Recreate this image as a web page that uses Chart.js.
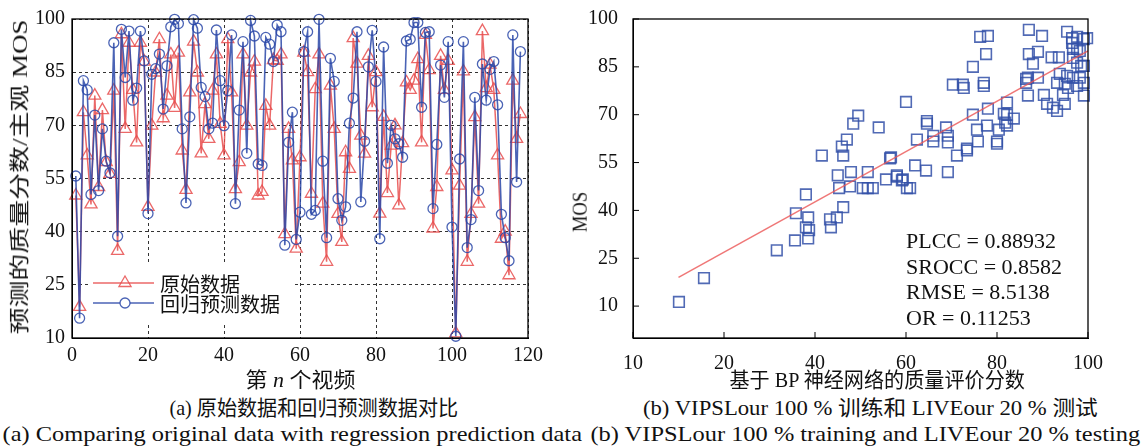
<!DOCTYPE html>
<html><head><meta charset="utf-8">
<script src="https://cdn.jsdelivr.net/npm/chart.js@4.4.0/dist/chart.umd.min.js"></script>
<style>
body{margin:0;background:#fff;}
#wrap{position:relative;width:1143px;height:448px;overflow:hidden;background:#fff;}
canvas{position:absolute;left:0;top:0;}
.t{position:absolute;white-space:nowrap;font-family:"Liberation Serif","Noto Sans CJK SC",serif;color:#111;line-height:1;}
</style></head><body>
<div id="wrap">
<div style="position:absolute;left:0;top:0;width:560px;height:395px;"><canvas id="c1" width="560" height="395"></canvas></div>
<div style="position:absolute;left:560px;top:0;width:583px;height:395px;"><canvas id="c2" width="583" height="395"></canvas></div>
<div class="t" data-cx="20" data-cy="177" data-w="315" data-fs="20" data-rot="1">预测的质量分数/主观 MOS</div>
<div class="t" data-cx="579" data-cy="212" data-w="40" data-fs="20" data-rot="1">MOS</div>
<div class="t" data-cx="300" data-cy="380" data-w="110" data-fs="21">第 <i>n</i> 个视频</div>
<div class="t" data-cx="877" data-cy="380" data-w="295" data-fs="21">基于 BP 神经网络的质量评价分数</div>
<div class="t" data-cx="314" data-cy="408" data-w="289" data-fs="21">(a) 原始数据和回归预测数据对比</div>
<div class="t" data-cx="870" data-cy="408" data-w="455" data-fs="21">(b) VIPSLour 100 % 训练和 LIVEour 20 % 测试</div>
<div class="t" data-cx="292" data-cy="434" data-w="580" data-fs="21">(a) Comparing original data with regression prediction data</div>
<div class="t" data-cx="865" data-cy="434" data-w="550" data-fs="21">(b) VIPSLour 100 % training and LIVEour 20 % testing</div>
</div>
<script>
// ---------- data ----------
const videoIndex = Array.from({length:118},(_,i)=>i+1);
const origData = [50.2,18.8,73.7,61.5,47.7,78.4,52.6,74.3,59.6,56.3,
 79.8,34.6,95.7,69.0,93.3,80.0,65.2,93.3,88.0,47.0,
 69.9,84.9,94.3,72.0,78.4,90.0,74.9,90.5,62.9,51.8,
 79.3,93.6,84.9,62.1,76.0,66.2,79.8,90.0,70.4,61.5,
 94.3,79.3,52.0,59.6,90.0,69.9,84.9,88.0,50.2,51.2,
 75.5,69.9,88.4,88.2,90.0,39.3,69.0,60.1,35.2,61.0,
 90.5,85.0,50.7,80.2,90.0,47.9,31.5,81.2,69.0,45.0,
 37.1,62.4,57.7,94.6,87.4,67.1,62.0,89.6,75.1,85.0,
 45.1,72.4,50.9,64.3,70.0,47.4,65.0,82.1,80.0,82.6,
 88.7,65.2,95.5,85.6,40.9,52.6,89.6,80.0,88.2,57.3,
 11.3,53.0,85.2,31.5,45.0,72.3,47.9,96.6,80.5,87.1,
 80.0,61.5,38.0,40.0,27.7,82.6,66.2,73.2];
const predData = [55.7,15.6,82.6,80.0,50.5,72.9,51.6,69.0,59.9,56.6,
 93.3,38.7,97.1,83.5,96.6,77.1,80.5,96.6,88.2,45.1,
 84.4,86.0,90.1,74.6,86.8,97.8,99.9,98.7,69.0,48.1,
 72.4,99.8,97.4,80.7,78.1,69.0,70.6,96.9,82.6,69.9,
 79.8,95.5,47.9,74.3,93.6,62.1,99.6,95.2,59.1,58.7,
 94.8,92.9,88.0,98.3,96.4,36.2,65.2,73.7,37.8,45.5,
 90.8,96.4,44.9,46.0,99.9,59.9,38.3,88.9,82.4,49.3,
 43.2,47.0,70.6,77.7,96.4,48.4,65.5,86.5,96.8,82.4,
 38.0,92.1,59.3,70.0,66.2,64.8,61.0,93.8,94.3,99.0,
 99.0,75.1,96.2,96.4,46.5,64.6,87.0,77.9,93.6,41.3,
 10.5,60.5,93.6,35.5,43.4,77.9,51.6,87.3,77.1,85.8,
 88.0,75.8,44.9,38.3,31.8,95.5,54.0,90.8];
const seriesNames = ['原始数据','回归预测数据'];
const leftYTicks = [10,25,40,55,70,85,100];
const leftXTicks = [0,20,40,60,80,100,120];

const bpScore = [10.1,15.6,31.6,35.6,38.5,38.7,38.0,35.8,38.5,38.0,
 43.5,43.3,44.8,46.2,41.5,45.9,47.0,46.2,48.4,49.5,
 54.0,45.0,45.3,47.9,47.7,51.6,50.5,51.6,52.7,55.6,
 56.5,58.0,59.3,60.0,60.2,60.9,59.1,76.3,78.0,77.6,
 74.7,70.3,72.5,72.7,77.1,77.1,64.6,64.6,68.8,62.4,
 66.0,66.0,69.2,69.2,71.2,73.4,73.4,75.6,74.7,78.0,
 77.8,80.4,75.8,80.0,80.0,82.2,81.5,82.2,81.8,83.7,
 82.2,87.0,89.9,87.0,89.0,87.9,86.4,86.8,89.0,86.4,
 86.8,90.3,91.0,92.3,93.2,94.5,94.9,92.0,93.6,95.4,
 97.6,99.1,96.5,96.5,96.7,97.6,98.2,96.7,97.6,98.5,
 99.1,93.8,95.4,96.7,98.2,93.2,94.9,97.6,99.1,99.1,
 95.6,99.8,69.2,56.7,62.0,64.4,58.0];
const mosScore = [11.3,18.8,27.5,30.6,31.2,33.8,34.7,39.1,37.8,45.0,
 34.7,37.2,37.8,41.0,57.2,60.0,62.2,57.2,67.2,69.7,
 66.0,51.0,47.0,52.0,47.5,52.0,47.0,47.0,47.0,49.7,
 56.3,50.6,49.7,74.0,47.0,47.0,49.4,94.4,94.7,89.0,
 85.0,79.4,79.4,78.4,80.0,79.0,68.0,67.2,66.0,62.2,
 63.4,61.6,63.4,61.3,57.2,59.4,58.8,65.3,70.0,71.9,
 66.6,65.3,61.6,61.6,60.9,73.8,70.3,70.0,67.5,68.8,
 66.6,96.6,94.7,89.0,89.7,86.0,81.2,81.6,81.6,80.0,
 76.0,76.2,73.4,72.2,71.2,76.2,73.4,88.0,88.0,96.0,
 94.4,93.7,94.0,92.5,90.6,90.6,90.0,87.8,86.3,85.3,
 85.3,82.8,82.2,81.6,81.6,80.0,79.7,79.0,80.0,76.0,
 78.4,94.0,52.0,56.6,54.1,52.5,51.0];
const fitX = [10,100];
const fitY = [19,90];
const rightYTicks = [10,25,40,55,70,85,100];
const rightXTickLabels = ['10','20','40','60','80','100'];
const statLabels = ['PLCC = 0.88932','SROCC = 0.8582','RMSE = 8.5138','OR = 0.11253'];
const statY = [30,22,14,6];

// ---------- styles ----------
const RED='rgba(232,78,78,0.85)', BLUE='rgba(42,72,168,0.85)', SQ='rgba(50,80,168,0.85)';
const tickFont={family:'"Liberation Serif", serif',size:20};

function framePlugin(inTicksX, inTicksY){
  return {id:'frame'+Math.random(),afterDraw(chart){
    const {ctx,chartArea:a,scales:{x,y}}=chart;
    ctx.save();ctx.strokeStyle='#000';ctx.lineWidth=1.3;ctx.setLineDash([]);
    ctx.strokeRect(a.left,a.top,a.right-a.left,a.bottom-a.top);
    ctx.lineWidth=1;
    if(inTicksX) x.ticks.forEach(t=>{const p=x.getPixelForValue(t.value);ctx.beginPath();ctx.moveTo(p,a.bottom);ctx.lineTo(p,a.bottom-6);ctx.stroke();});
    if(inTicksY) y.ticks.forEach(t=>{const p=y.getPixelForValue(t.value);ctx.beginPath();ctx.moveTo(a.left,p);ctx.lineTo(a.left+6,p);ctx.stroke();});
    ctx.restore();
  }};
}
function tri(ctx,x,y,r){ctx.beginPath();ctx.moveTo(x,y-r);ctx.lineTo(x+Math.sin(2*Math.PI/3)*r,y+r/2);ctx.lineTo(x-Math.sin(2*Math.PI/3)*r,y+r/2);ctx.closePath();ctx.stroke();}
const legendPlugin={id:'lg',afterDatasetsDraw(chart){
  const ctx=chart.ctx;ctx.save();
  ctx.fillStyle='#fff';ctx.fillRect(88,263,207,60);
  const rows=[{y:283,c:RED,m:'tri'},{y:303,c:BLUE,m:'cir'}];
  rows.forEach((r,i)=>{
    ctx.strokeStyle=r.c;ctx.lineWidth=1.6;ctx.beginPath();ctx.moveTo(93,r.y);ctx.lineTo(154,r.y);ctx.stroke();
    ctx.lineWidth=1.3;
    if(r.m==='tri') tri(ctx,125,r.y,7); else {ctx.beginPath();ctx.arc(125,r.y,5,0,Math.PI*2);ctx.fillStyle='#fff';ctx.fill();ctx.stroke();}
    ctx.fillStyle='#111';ctx.font='20px "Noto Sans CJK SC"';ctx.textBaseline='middle';
    ctx.fillText(seriesNames[i],160,r.y+1);
  });
  ctx.restore();
}};

new Chart(document.getElementById('c1'),{
  type:'line',
  data:{datasets:[
    {label:seriesNames[0],data:videoIndex.map((v,i)=>({x:v,y:origData[i]})),borderColor:RED,borderWidth:1.5,
     pointStyle:'triangle',pointRadius:7,pointBorderColor:RED,pointBackgroundColor:'rgba(0,0,0,0)',pointBorderWidth:1.3,
     tension:0,order:2,clip:false},
    {label:seriesNames[1],data:videoIndex.map((v,i)=>({x:v,y:predData[i]})),borderColor:BLUE,borderWidth:1.6,
     pointStyle:'circle',pointRadius:5,pointBorderColor:BLUE,pointBackgroundColor:'rgba(0,0,0,0)',pointBorderWidth:1.3,
     tension:0,order:1,clip:false}
  ]},
  options:{responsive:false,animation:false,events:[],
    layout:{padding:{top:18,right:32,left:0,bottom:0}},
    plugins:{legend:{display:false},tooltip:{enabled:false}},
    scales:{
      x:{type:'linear',min:0,max:120,
        afterBuildTicks:s=>{s.ticks=leftXTicks.map(v=>({value:v}));},
        afterFit:s=>{s.height=57;},
        ticks:{font:tickFont,color:'#111',padding:6,maxRotation:0},
        grid:{color:'#333',lineWidth:1,drawTicks:false},border:{dash:[3,3],color:'#000'}},
      y:{min:10,max:100,
        afterBuildTicks:s=>{s.ticks=leftYTicks.map(v=>({value:v}));},
        afterFit:s=>{s.width=72;},
        ticks:{font:tickFont,color:'#111',padding:7},
        grid:{color:'#333',lineWidth:1,drawTicks:false},border:{dash:[3,3],color:'#000'}}
    }
  },
  plugins:[framePlugin(false,false),legendPlugin]
});

const statPlugin={id:'stat',afterDraw(chart){
  const {ctx,scales:{x,y}}=chart;ctx.save();
  ctx.font='22px "Liberation Serif"';ctx.fillStyle='#111';ctx.textBaseline='middle';
  statLabels.forEach((t,i)=>ctx.fillText(t,x.getPixelForValue(60),y.getPixelForValue(statY[i])));
  ctx.restore();
}};

new Chart(document.getElementById('c2'),{
  type:'scatter',
  data:{datasets:[
    {type:'line',data:fitX.map((v,i)=>({x:v,y:fitY[i]})),borderColor:'rgba(235,85,85,0.8)',borderWidth:1.5,pointRadius:0,order:0},
    {data:bpScore.map((v,i)=>({x:v,y:mosScore[i]})),pointStyle:'rect',pointRadius:7.5,pointBorderColor:SQ,
     pointBackgroundColor:'rgba(0,0,0,0)',pointBorderWidth:1.6,showLine:false,order:1,clip:false}
  ]},
  options:{responsive:false,animation:false,events:[],
    layout:{padding:{top:18,right:55,left:0,bottom:0}},
    plugins:{legend:{display:false},tooltip:{enabled:false}},
    scales:{
      x:{type:'linear',min:0,max:100,
        afterBuildTicks:s=>{s.ticks=[0,20,40,60,80,100].map(v=>({value:v}));},
        afterFit:s=>{s.height=57;},
        ticks:{font:tickFont,color:'#111',padding:6,maxRotation:0,callback:(v,i)=>rightXTickLabels[i]},
        grid:{display:false},border:{color:'#000'}},
      y:{min:0,max:100,
        afterBuildTicks:s=>{s.ticks=rightYTicks.map(v=>({value:v}));},
        afterFit:s=>{s.width=73;},
        ticks:{font:tickFont,color:'#111',padding:7},
        grid:{display:false},border:{color:'#000'}}
    }
  },
  plugins:[framePlugin(true,true),statPlugin]
});

// ---------- fit html text ----------
document.querySelectorAll('.t').forEach(el=>{
  el.style.fontSize=el.dataset.fs+'px';
  const w=el.offsetWidth,h=el.offsetHeight;
  const s=(+el.dataset.w)/w;
  el.style.left=(+el.dataset.cx-w/2)+'px';
  el.style.top=(+el.dataset.cy-h/2)+'px';
  el.style.transformOrigin='50% 50%';
  el.style.transform=(el.dataset.rot?'rotate(-90deg) ':'')+'scaleX('+s.toFixed(3)+')';
});
</script>
</body></html>
